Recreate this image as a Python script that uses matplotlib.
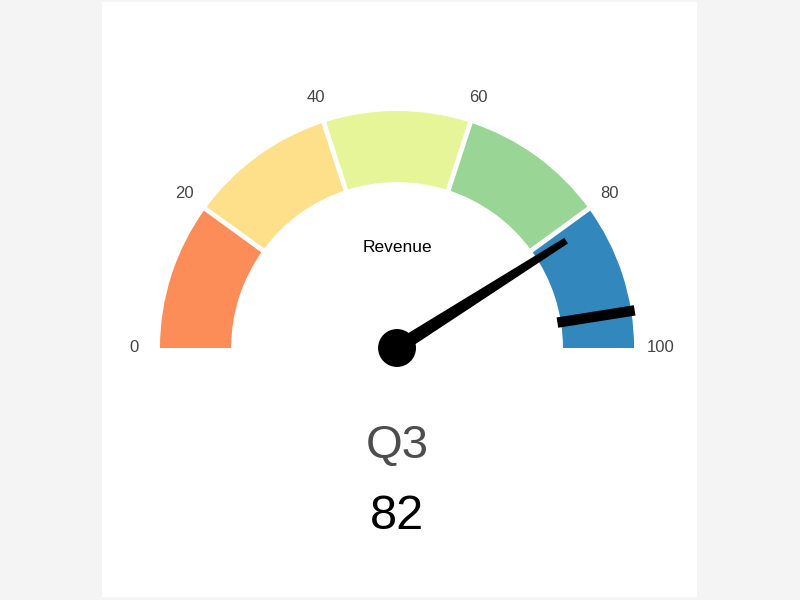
import numpy as np
import matplotlib
matplotlib.use("Agg")
import matplotlib.pyplot as plt
from matplotlib.patches import Wedge, Circle, Polygon

plt.rcParams["font.family"] = ["Liberation Sans", "DejaVu Sans"]

# data
band_edges = [0, 20, 40, 60, 80, 100]
band_colors = ["#fc8d59", "#fee08b", "#e6f598", "#99d594", "#3288bd"]
tick_values = [0, 20, 40, 60, 80, 100]
value = 82
target = 95
metric = "Revenue"
period = "Q3"

vmin, vmax = band_edges[0], band_edges[-1]
R_OUT, R_IN = 1.0, 0.70


def to_angle(v):
    """value -> angle in degrees (0 on the left, 100 on the right)"""
    return 180.0 - (v - vmin) / (vmax - vmin) * 180.0


def polar(r, v):
    a = np.radians(to_angle(v))
    return r * np.cos(a), r * np.sin(a)


fig = plt.figure(figsize=(8, 6), dpi=100, facecolor="#f4f4f4")

# white card behind the gauge
card = fig.add_axes([102 / 800, 3 / 600, 595 / 800, 595 / 600])
card.set_facecolor("white")
card.set_xticks([])
card.set_yticks([])
for s in card.spines.values():
    s.set_visible(False)

ax = fig.add_axes([0, 0, 1, 1], zorder=2)
ax.set_xlim(-1.675, 1.700)
ax.set_ylim(-1.063, 1.468)
ax.set_aspect("equal")
ax.axis("off")

# colour bands
for lo, hi, col in zip(band_edges[:-1], band_edges[1:], band_colors):
    ax.add_patch(Wedge((0, 0), R_OUT, to_angle(hi), to_angle(lo),
                       width=R_OUT - R_IN, facecolor=col, edgecolor="none"))

# white separators between bands
for b in band_edges[1:-1]:
    x0, y0 = polar(R_IN - 0.02, b)
    x1, y1 = polar(R_OUT + 0.02, b)
    ax.plot([x0, x1], [y0, y1], color="white", lw=3.5, solid_capstyle="butt")

# tick labels
for t in tick_values:
    x, y = polar(1.11, t)
    ax.text(x, y, str(t), ha="center", va="center", fontsize=12, color="#444444")

# target marker
x0, y0 = polar(R_IN - 0.015, target)
x1, y1 = polar(R_OUT + 0.015, target)
ax.plot([x0, x1], [y0, y1], color="black", lw=7.5, solid_capstyle="butt", zorder=4)

# needle
a = np.radians(to_angle(value))
d = np.array([np.cos(a), np.sin(a)])
n = np.array([-np.sin(a), np.cos(a)])
L, w0, w1 = 0.845, 0.029, 0.014
pts = [-n * w0, d * L - n * w1, d * L + n * w1, n * w0]
ax.add_patch(Polygon(pts, closed=True, facecolor="black", edgecolor="none", zorder=5))
ax.add_patch(Circle((0, 0), 0.08, facecolor="black", edgecolor="none", zorder=6))

# texts
ax.text(0, 0.426, metric, ha="center", va="center", fontsize=12.5, color="black")
ax.text(0, -0.412, period, ha="center", va="center", fontsize=34, color="#4d4d4d")
ax.text(0, -0.71, str(value), ha="center", va="center", fontsize=35, color="black")

fig.savefig("out.png", dpi=100, facecolor=fig.get_facecolor())
